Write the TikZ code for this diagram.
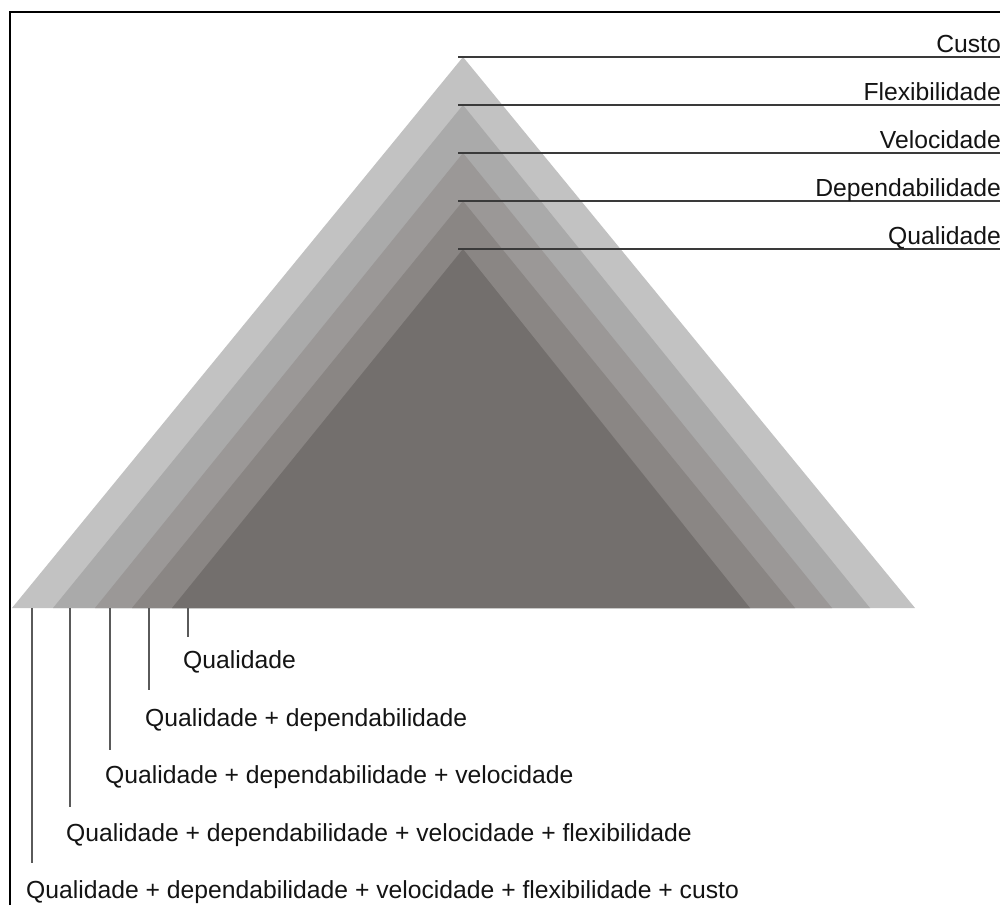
\documentclass[tikz,border=0pt]{standalone}
\usepackage{fontspec}
\setmainfont{Liberation Sans}
\definecolor{tA}{HTML}{C2C2C2}
\definecolor{tB}{HTML}{AAAAAA}
\definecolor{tC}{HTML}{9B9897}
\definecolor{tD}{HTML}{8A8684}
\definecolor{tE}{HTML}{736F6D}
\definecolor{hline}{HTML}{3A3A3A}
\definecolor{vline}{HTML}{5A5A5A}
\tikzset{
  lab/.style={inner sep=0pt, font=\fontsize{24.7}{28}\selectfont, text=black!92},
  rlab/.style={lab, anchor=base east},
  blab/.style={lab, anchor=base west},
  hl/.style={draw=hline, line width=1.6pt},
  vl/.style={draw=vline, line width=1.6pt},
}
\begin{document}
\begin{tikzpicture}[x=1pt,y=-1pt]
\useasboundingbox (0,0) rectangle (1000,905);
\fill[white] (0,0) rectangle (1000,905);
% frame
\draw[line width=2.5pt, black] (10,905) -- (10,12) -- (1000,12);
% triangles
\fill[tA] (463,57) -- (915,608) -- (12,608) -- cycle;
\fill[tB] (463,105) -- (870,608) -- (53,608) -- cycle;
\fill[tC] (463,153) -- (832,608) -- (95,608) -- cycle;
\fill[tD] (463,201) -- (795,608) -- (132,608) -- cycle;
\fill[tE] (463,249) -- (750,608) -- (172,608) -- cycle;
% apex coordinates and right ends
\coordinate (a1) at (458,57);  \coordinate (e1) at (1000,57);
\coordinate (a2) at (458,105); \coordinate (e2) at (1000,105);
\coordinate (a3) at (458,153); \coordinate (e3) at (1000,153);
\coordinate (a4) at (458,201); \coordinate (e4) at (1000,201);
\coordinate (a5) at (458,249); \coordinate (e5) at (1000,249);
\draw[hl] (a1) -- (e1);
\draw[hl] (a2) -- (e2);
\draw[hl] (a3) -- (e3);
\draw[hl] (a4) -- (e4);
\draw[hl] (a5) -- (e5);
\node[rlab] (r1) at (1001,52) {Custo};
\node[rlab] (r2) at (1001,100) {Flexibilidade};
\node[rlab] (r3) at (1001,148) {Velocidade};
\node[rlab] (r4) at (1001,196) {Dependabilidade};
\node[rlab] (r5) at (1001,244) {Qualidade};
% bottom vertical lines
\coordinate (b1) at (32,608);  \coordinate (t1) at (32,863);
\coordinate (b2) at (70,608);  \coordinate (t2) at (70,807);
\coordinate (b3) at (110,608); \coordinate (t3) at (110,750);
\coordinate (b4) at (149,608); \coordinate (t4) at (149,690);
\coordinate (b5) at (188,608); \coordinate (t5) at (188,637);
\draw[vl] (b1) -- (t1);
\draw[vl] (b2) -- (t2);
\draw[vl] (b3) -- (t3);
\draw[vl] (b4) -- (t4);
\draw[vl] (b5) -- (t5);
\node[blab] (q5) at (183,668) {Qualidade};
\node[blab] (q4) at (145,726) {Qualidade + dependabilidade};
\node[blab] (q3) at (105,783) {Qualidade + dependabilidade + velocidade};
\node[blab] (q2) at (66,841) {Qualidade + dependabilidade + velocidade + flexibilidade};
\node[blab] (q1) at (26,898) {Qualidade + dependabilidade + velocidade + flexibilidade + custo};
\end{tikzpicture}
\end{document}
